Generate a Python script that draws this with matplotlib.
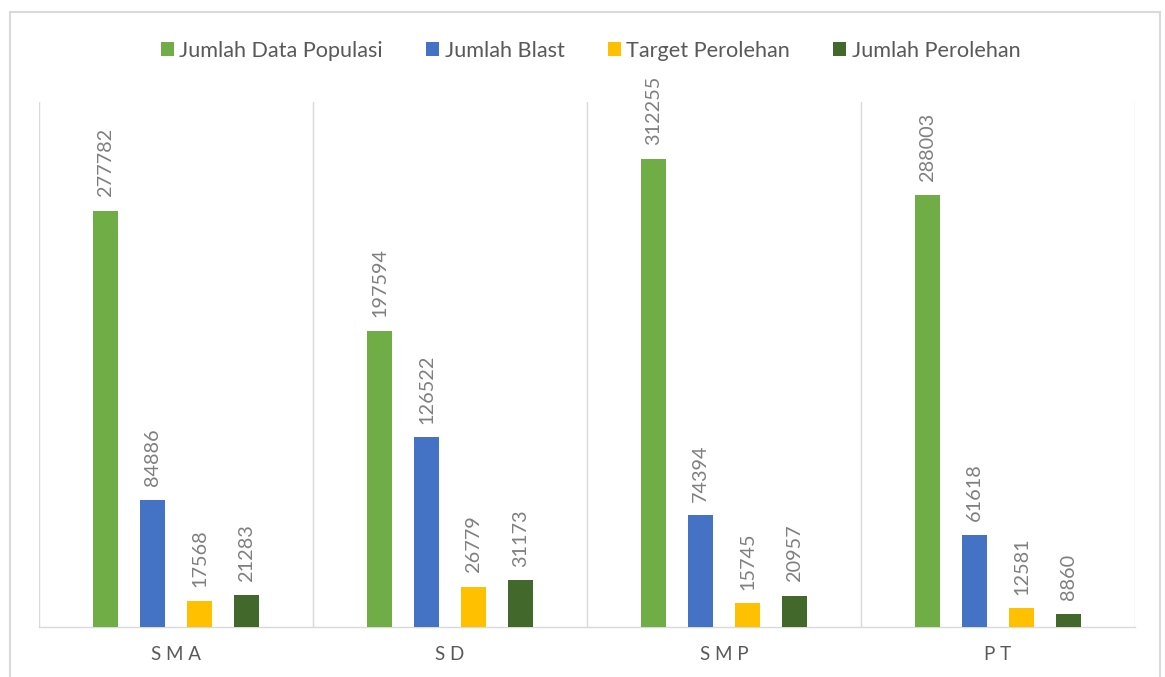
import matplotlib.pyplot as plt
from matplotlib.patches import Rectangle
import numpy as np

plt.rcParams['font.family'] = ['Lato', 'DejaVu Sans']

# data
categories = ['S M A', 'S D', 'S M P', 'P T']
series_names = ['Jumlah Data Populasi', 'Jumlah Blast', 'Target Perolehan', 'Jumlah Perolehan']
populasi = [277782, 197594, 312255, 288003]
blast = [84886, 126522, 74394, 61618]
target = [17568, 26779, 15745, 12581]
perolehan = [21283, 31173, 20957, 8860]
colors = ['#70AD47', '#4472C4', '#FFC000', '#43682B']

text_gray = '#595959'
label_gray = '#7F7F7F'
line_gray = '#D9D9D9'

fig = plt.figure(figsize=(11.65, 6.77), dpi=100)
ax = fig.add_axes([0.0335, 0.0739, 0.9407, 0.7751])

# outer chart border
fig.patches.append(Rectangle((10 / 1165, -0.01), 1150 / 1165, 1 - 12 / 677 + 0.01,
                             transform=fig.transFigure, fill=False,
                             edgecolor='#D9D9D9', linewidth=1.5))

x = np.arange(len(categories))
offsets = [-0.257, -0.086, 0.086, 0.257]
width = 0.092
all_series = [populasi, blast, target, perolehan]

for vals, off, col, name in zip(all_series, offsets, colors, series_names):
    bars = ax.bar(x + off, vals, width, color=col, label=name, zorder=3)
    for b, v in zip(bars, vals):
        ax.text(b.get_x() + b.get_width() / 2, v + 9000, str(v), rotation=90,
                ha='center', va='bottom', fontsize=14.3, color=label_gray)

ax.set_xlim(-0.5, len(categories) - 0.5)
ax.set_ylim(0, 350000)

# category separators
for sep in np.arange(-0.5, len(categories), 1.0):
    ax.axvline(sep, color=line_gray, linewidth=1, zorder=1)

for s in ['top', 'right', 'left']:
    ax.spines[s].set_visible(False)
ax.spines['bottom'].set_color(line_gray)
ax.spines['bottom'].set_linewidth(1)

ax.set_yticks([])
ax.set_xticks(x)
ax.set_xticklabels(categories, fontsize=13.5, color=text_gray)
ax.tick_params(axis='x', length=0, pad=14)

leg = fig.legend(loc='center', bbox_to_anchor=(0.507, 0.925), ncol=4, frameon=False,
                 fontsize=15.6, handlelength=0.6, handleheight=0.6, handletextpad=0.25,
                 columnspacing=2.0)
for t in leg.get_texts():
    t.set_color(text_gray)

plt.savefig('out.png', dpi=100)
